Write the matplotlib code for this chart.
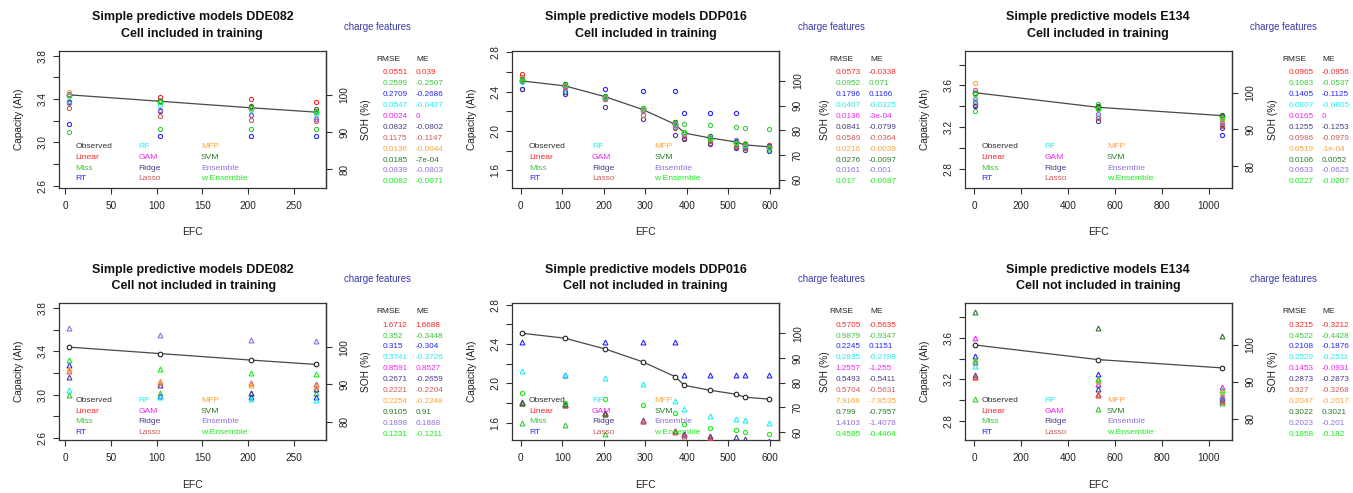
import numpy as np
import matplotlib
matplotlib.use("Agg")
import matplotlib.pyplot as plt

plt.rcParams["font.family"] = ["Liberation Sans", "DejaVu Sans"]

MODELS = ["Linear", "Miss", "RT", "RF", "GAM", "Ridge", "Lasso", "MFP", "SVM", "Ensemble", "w Ensemble"]
MODEL_COLORS = ["#FF2626", "#3CC83C", "#2626FF", "#22F0F0", "#F026F0", "#483D8B",
                "#CD5C5C", "#FFA53C", "#2A7A2A", "#9370DB", "#18EE18"]
OBS_COLOR = "#333333"
LEGEND_COLS = [["Observed", "Linear", "Miss", "RT"],
               ["RF", "GAM", "Ridge", "Lasso"],
               ["MFP", "SVM", "Ensemble", "w Ensemble"]]

# ---- cell DDE082 ----
EFC_DDE082 = [4, 104, 203, 274]
OBS_DDE082 = [3.44, 3.38, 3.32, 3.28]
PRED_DDE082_IN = {
    "Linear": [3.44, 3.42, 3.40, 3.37], "Miss": [3.10, 3.12, 3.12, 3.12],
    "RT": [3.17, 3.06, 3.06, 3.06], "RF": [3.38, 3.35, 3.30, 3.26],
    "GAM": [3.45, 3.38, 3.33, 3.29], "Ridge": [3.37, 3.29, 3.25, 3.22],
    "Lasso": [3.32, 3.24, 3.21, 3.20], "MFP": [3.47, 3.37, 3.32, 3.28],
    "SVM": [3.44, 3.38, 3.34, 3.31], "Ensemble": [3.36, 3.30, 3.25, 3.22],
    "w Ensemble": [3.44, 3.37, 3.32, 3.28],
}
PRED_DDE082_OUT = {
    "Linear": [5.11, 5.04, 4.99, 4.94], "Miss": [3.00, 3.02, 3.02, 3.02],
    "RT": [3.27, 2.99, 2.98, 2.98], "RF": [3.04, 2.98, 2.96, 2.95],
    "GAM": [4.29, 4.22, 4.17, 4.12], "Ridge": [3.16, 3.09, 3.02, 3.05],
    "Lasso": [3.22, 3.12, 3.11, 3.10], "MFP": [3.24, 3.13, 3.09, 3.08],
    "SVM": [4.35, 4.28, 4.23, 4.18], "Ensemble": [3.62, 3.55, 3.51, 3.50],
    "w Ensemble": [3.32, 3.24, 3.20, 3.19],
}
RMSE_DDE082_IN = ["0.0551", "0.2599", "0.2709", "0.0547", "0.0024", "0.0832", "0.1175", "0.0136", "0.0185", "0.0839", "0.0082"]
ME_DDE082_IN = ["0.039", "-0.2507", "-0.2686", "-0.0427", "0", "-0.0802", "-0.1147", "-0.0044", "-7e-04", "-0.0803", "-0.0071"]
RMSE_DDE082_OUT = ["1.6712", "0.352", "0.315", "0.3741", "0.8591", "0.2671", "0.2221", "0.2254", "0.9105", "0.1898", "0.1231"]
ME_DDE082_OUT = ["1.6688", "-0.3448", "-0.304", "-0.3726", "0.8527", "-0.2659", "-0.2204", "-0.2248", "0.91", "0.1888", "-0.1211"]

# ---- cell DDP016 ----
EFC_DDP016 = [3, 106, 203, 293, 371, 394, 456, 518, 539, 598]
OBS_DDP016 = [2.51, 2.46, 2.35, 2.22, 2.07, 1.98, 1.93, 1.89, 1.86, 1.84]
PRED_DDP016_IN = {
    "Linear": [2.58, 2.47, 2.33, 2.20, 2.04, 1.93, 1.88, 1.84, 1.83, 1.86],
    "Miss": [2.53, 2.48, 2.34, 2.24, 2.09, 2.07, 2.06, 2.04, 2.03, 2.02],
    "RT": [2.43, 2.38, 2.43, 2.41, 2.41, 2.18, 2.18, 2.18, 1.84, 1.81],
    "RF": [2.50, 2.42, 2.33, 2.20, 2.05, 1.97, 1.91, 1.86, 1.83, 1.81],
    "GAM": [2.52, 2.46, 2.35, 2.22, 2.07, 1.98, 1.93, 1.88, 1.86, 1.84],
    "Ridge": [2.43, 2.40, 2.25, 2.12, 1.96, 1.92, 1.87, 1.83, 1.81, 1.80],
    "Lasso": [2.55, 2.45, 2.33, 2.16, 2.03, 1.95, 1.90, 1.85, 1.83, 1.85],
    "MFP": [2.54, 2.47, 2.34, 2.22, 2.06, 1.98, 1.93, 1.88, 1.88, 1.83],
    "SVM": [2.53, 2.48, 2.36, 2.24, 2.09, 1.99, 1.95, 1.90, 1.87, 1.85],
    "Ensemble": [2.51, 2.44, 2.34, 2.21, 2.06, 1.97, 1.93, 1.91, 1.85, 1.84],
    "w Ensemble": [2.52, 2.47, 2.35, 2.23, 2.08, 1.99, 1.92, 1.88, 1.86, 1.83],
}
PRED_DDP016_OUT = {
    "Linear": [1.80, 1.78, 1.70, 1.62, 1.52, 1.48, 1.44, 1.38, 1.33, 1.27],
    "Miss": [1.60, 1.58, 1.48, 1.28, 1.12, 1.05, 1.00, 0.95, 0.92, 0.90],
    "RT": [2.42, 2.09, 2.42, 2.42, 2.42, 2.09, 2.09, 2.09, 2.09, 2.09],
    "RF": [2.13, 2.09, 2.05, 1.99, 1.82, 1.74, 1.67, 1.64, 1.63, 1.60],
    "GAM": [1.25, 1.21, 1.10, 0.97, 0.82, 0.72, 0.68, 0.63, 0.61, 0.59],
    "Ridge": [1.81, 1.79, 1.70, 1.63, 1.52, 1.49, 1.46, 1.45, 1.43, 1.41],
    "Lasso": [1.80, 1.78, 1.69, 1.62, 1.51, 1.46, 1.42, 1.38, 1.34, 1.30],
    "MFP": [-5.34, -5.39, -5.50, -5.63, -5.78, -5.87, -5.92, -5.96, -5.99, -6.01],
    "SVM": [1.80, 1.79, 1.69, 1.38, 1.25, 1.15, 1.10, 1.05, 1.02, 1.00],
    "Ensemble": [1.10, 1.05, 0.94, 0.81, 0.66, 0.57, 0.52, 0.48, 0.45, 0.43],
    "w Ensemble": [1.90, 1.80, 1.84, 1.78, 1.70, 1.59, 1.55, 1.53, 1.51, 1.49],
}
RMSE_DDP016_IN = ["0.0573", "0.0952", "0.1796", "0.0407", "0.0136", "0.0841", "0.0589", "0.0216", "0.0276", "0.0161", "0.017"]
ME_DDP016_IN = ["-0.0338", "0.071", "0.1166", "-0.0325", "-3e-04", "-0.0799", "-0.0364", "-0.0039", "-0.0097", "-0.001", "-0.0087"]
RMSE_DDP016_OUT = ["0.5705", "0.9879", "0.2245", "0.2835", "1.2557", "0.5493", "0.5704", "7.9168", "0.799", "1.4103", "0.4585"]
ME_DDP016_OUT = ["-0.5635", "-0.9347", "0.1151", "-0.2789", "-1.255", "-0.5411", "-0.5631", "-7.8535", "-0.7957", "-1.4078", "-0.4464"]

# ---- cell E134 ----
EFC_E134 = [3, 527, 1055]
OBS_E134 = [3.53, 3.39, 3.31]
PRED_E134_IN = {
    "Linear": [3.44, 3.29, 3.22], "Miss": [3.35, 3.42, 3.28], "RT": [3.41, 3.38, 3.12],
    "RF": [3.45, 3.31, 3.23], "GAM": [3.56, 3.38, 3.30], "Ridge": [3.40, 3.26, 3.19],
    "Lasso": [3.43, 3.29, 3.21], "MFP": [3.62, 3.37, 3.27], "SVM": [3.53, 3.40, 3.32],
    "Ensemble": [3.47, 3.33, 3.24], "w Ensemble": [3.52, 3.37, 3.29],
}
PRED_E134_OUT = {
    "Linear": [3.22, 3.05, 2.99], "Miss": [3.01, 2.92, 2.97], "RT": [3.42, 3.25, 3.03],
    "RF": [3.33, 3.15, 3.03], "GAM": [3.60, 3.16, 3.13], "Ridge": [3.24, 3.11, 3.01],
    "Lasso": [3.22, 3.06, 2.99], "MFP": [3.37, 3.18, 3.07], "SVM": [3.85, 3.69, 3.62],
    "Ensemble": [3.37, 3.20, 3.04], "w Ensemble": [3.39, 3.20, 3.10],
}
RMSE_E134_IN = ["0.0965", "0.1083", "0.1405", "0.0807", "0.0165", "0.1255", "0.0986", "0.0519", "0.0106", "0.0633", "0.0227"]
ME_E134_IN = ["-0.0956", "-0.0537", "-0.1125", "-0.0805", "0", "-0.1253", "-0.0979", "-1e-04", "0.0052", "-0.0623", "-0.0207"]
RMSE_E134_OUT = ["0.3215", "0.4522", "0.2108", "0.2529", "0.1453", "0.2873", "0.327", "0.2047", "0.3022", "0.2023", "0.1858"]
ME_E134_OUT = ["-0.3212", "-0.4428", "-0.1876", "-0.2511", "-0.0931", "-0.2873", "-0.3268", "-0.2017", "0.3021", "-0.201", "-0.182"]

# axis ticks per cell
YTICKS = {"DDE082": [2.6, 2.8, 3.0, 3.2, 3.4, 3.6, 3.8],
          "DDP016": [1.6, 1.8, 2.0, 2.2, 2.4, 2.6, 2.8],
          "E134": [2.8, 3.0, 3.2, 3.4, 3.6, 3.8]}
YLABELED = {"DDE082": [2.6, 3.0, 3.4, 3.8], "DDP016": [1.6, 2.0, 2.4, 2.8], "E134": [2.8, 3.2, 3.6]}
XTICKS = {"DDE082": [0, 50, 100, 150, 200, 250], "DDP016": [0, 100, 200, 300, 400, 500, 600],
          "E134": [0, 200, 400, 600, 800, 1000]}
SOH_TICKS = {"DDE082": [80, 90, 100], "DDP016": [60, 70, 80, 90, 100], "E134": [80, 90, 100]}
YLIM = {"DDE082": (2.583, 3.845), "DDP016": (1.426, 2.815), "E134": (2.62, 3.93)}

PANELS = [
    (0, 0, "DDE082", "Cell included in training", EFC_DDE082, OBS_DDE082, PRED_DDE082_IN, RMSE_DDE082_IN, ME_DDE082_IN),
    (0, 1, "DDP016", "Cell included in training", EFC_DDP016, OBS_DDP016, PRED_DDP016_IN, RMSE_DDP016_IN, ME_DDP016_IN),
    (0, 2, "E134", "Cell included in training", EFC_E134, OBS_E134, PRED_E134_IN, RMSE_E134_IN, ME_E134_IN),
    (1, 0, "DDE082", " Cell not included in training", EFC_DDE082, OBS_DDE082, PRED_DDE082_OUT, RMSE_DDE082_OUT, ME_DDE082_OUT),
    (1, 1, "DDP016", "Cell not included in training", EFC_DDP016, OBS_DDP016, PRED_DDP016_OUT, RMSE_DDP016_OUT, ME_DDP016_OUT),
    (1, 2, "E134", "Cell not included in training", EFC_E134, OBS_E134, PRED_E134_OUT, RMSE_E134_OUT, ME_E134_OUT),
]

W, H = 1353, 493
AX_LEFT = [59, 512.3, 965]
AX_TOP = [51, 303.3]
AX_W, AX_H = 266.7, 136.5
SOH_LABEL_OFF = [40, 46, 41]

fig = plt.figure(figsize=(W / 100, H / 100), dpi=100)
fig.patch.set_facecolor("white")


def ftext(x, y, s, **kw):
    fig.text(x / W, 1 - y / H, s, **kw)


for row, col, cell, subtitle, efc, obs, pred, rmse, me in PANELS:
    left, top = AX_LEFT[col], AX_TOP[row]
    ax = fig.add_axes([left / W, 1 - (top + AX_H) / H, AX_W / W, AX_H / H])
    marker = "o" if row == 0 else "^"
    ms = 3.0 if row == 0 else 3.5

    ax.plot(efc, obs, color="#484848", lw=0.9, zorder=2)
    ax.plot(efc, obs, ls="none", marker="o", ms=3.3, mfc="white", mec="#222222", mew=0.8, zorder=2)
    for name, color in zip(MODELS, MODEL_COLORS):
        m = marker
        if row == 1 and cell == "DDP016" and name == "w Ensemble":
            m = "o"
        ax.plot(efc, pred[name], ls="none", marker=m, ms=ms if m == marker else 3.0,
                mfc="none", mec=color, mew=0.8, zorder=3)

    span = max(efc) - min(efc)
    ax.set_xlim(min(efc) - 0.04 * span, max(efc) + 0.04 * span)
    ax.set_ylim(*YLIM[cell])
    ax.set_xticks(XTICKS[cell])
    ax.set_xticklabels([str(v) for v in XTICKS[cell]])
    ax.set_yticks(YTICKS[cell])
    ax.set_yticklabels([f"{v:.1f}" if v in YLABELED[cell] else "" for v in YTICKS[cell]],
                       rotation=90, va="center")
    ax.tick_params(direction="out", length=4, width=0.8, color="#333333",
                   labelsize=7.2, labelcolor="#222222")
    ax.tick_params(axis="x", pad=5.5)
    ax.tick_params(axis="y", pad=4.5)
    for sp in ax.spines.values():
        sp.set_color("#333333")
        sp.set_linewidth(0.9)

    cap0 = obs[0]
    sec = ax.secondary_yaxis("right", functions=(lambda c, c0=cap0: c / c0 * 100,
                                                  lambda s, c0=cap0: s * c0 / 100))
    sec.set_yticks(SOH_TICKS[cell])
    sec.set_yticklabels([str(v) for v in SOH_TICKS[cell]], rotation=90, va="center")
    sec.tick_params(direction="out", length=4, width=0.8, color="#333333",
                    labelsize=7.2, labelcolor="#222222", pad=6)
    sec.spines["right"].set_color("#333333")
    sec.spines["right"].set_linewidth(0.9)

    right = left + AX_W
    mid_y = top + AX_H / 2
    ftext(left - 40.5, mid_y, "Capacity (Ah)", rotation=90, ha="center", va="center",
          fontsize=7.3, color="#222222")
    ftext(right + SOH_LABEL_OFF[col], mid_y, "SOH (%)", rotation=90, ha="center", va="center",
          fontsize=7.3, color="#222222")
    ftext(left + AX_W / 2, top + AX_H + 45, "EFC", ha="center", va="center",
          fontsize=7.5, color="#222222")

    ftext(left + AX_W / 2, top - 25.5, f"Simple predictive models {cell}\n{subtitle}",
          ha="center", va="center", fontsize=9, fontweight="bold", linespacing=1.45,
          color="#111111")
    ftext(right + 52, top - 24.5, "charge features", ha="center", va="center",
          fontsize=6.9, color="#3A3AA8")

    # text-only legend inside the plot
    col_x = [16.5, 79.5, 142]
    row_y = [96, 106.5, 117, 127.5]
    color_of = dict(zip(MODELS, MODEL_COLORS))
    color_of["Observed"] = OBS_COLOR
    for ci, names in enumerate(LEGEND_COLS):
        for ri, name in enumerate(names):
            ftext(left + col_x[ci], top + row_y[ri] + (1.5 if row == 1 else 0), name,
                  ha="left", va="center", fontsize=6.1, color=color_of[name])

    # error table
    ftext(right + 50.5, top + 8.5, "RMSE", ha="left", va="center", fontsize=6, color="#222222")
    ftext(right + 91, top + 8.5, "ME", ha="left", va="center", fontsize=6, color="#222222")
    for i, (r, e, color) in enumerate(zip(rmse, me, MODEL_COLORS)):
        y = top + 21.8 + i * 10.9
        ftext(right + 56.5, y, r, ha="left", va="center", fontsize=5.9, color=color)
        ftext(right + 90, y, e, ha="left", va="center", fontsize=5.9, color=color)

fig.savefig("out.png", dpi=100, facecolor="white")
